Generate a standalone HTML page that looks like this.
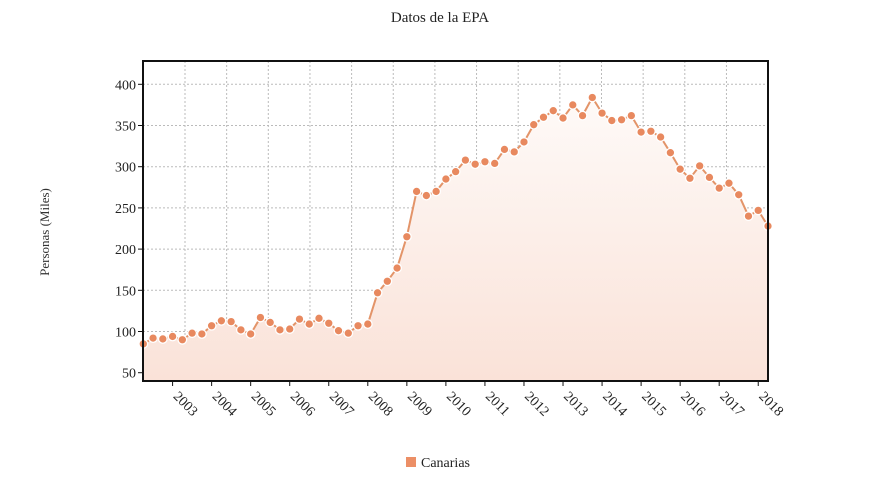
<!DOCTYPE html>
<html><head><meta charset="utf-8"><style>
body{margin:0;background:#fff;}
svg{display:block;font-family:"Liberation Serif",serif;}
</style></head><body>
<svg id="s" width="880" height="495" viewBox="0 0 880 495" xmlns="http://www.w3.org/2000/svg">
<defs><linearGradient id="g" x1="0" y1="0" x2="0" y2="1">
<stop offset="0" stop-color="#fefaf8"/><stop offset="1" stop-color="#fae2d8"/></linearGradient></defs>
<text x="440" y="22" text-anchor="middle" font-size="15" fill="#222">Datos de la EPA</text>
<text transform="translate(49,232) rotate(-90)" text-anchor="middle" font-size="13" fill="#333">Personas (Miles)</text>
<g id="grid"></g>
<path id="area" fill="url(#g)"/>
<polyline id="line" fill="none" stroke="#e39469" stroke-width="2"/>
<g id="pts"></g>
<rect x="143" y="61" width="625" height="320" fill="none" stroke="#111" stroke-width="2"/>
<g id="lab" font-size="14" fill="#222"></g>
<rect x="406" y="457" width="10" height="10" fill="#ec8f66"/>
<text x="421" y="467" font-size="14" fill="#222">Canarias</text>
</svg>
<script>
var v=[85,92,91,94,90,98,97,107,113,112,102,97,117,111,102,103,115,109,116,110,101,98,107,109,147,161,177,215,270,265,270,285,294,308,303,306,304,321,318,330,351,360,368,359,375,362,384,365,356,357,362,342,343,336,317,297,286,301,287,274,280,266,240,247,228];
var ns="http://www.w3.org/2000/svg";
function el(t,a,p){var e=document.createElementNS(ns,t);for(var k in a)e.setAttribute(k,a[k]);(p||document.getElementById('s')).appendChild(e);return e;}
function Y(x){return 84.3+(400-x)/50*41.2;}
var dx=(768-143.3)/64;
function X(i){return 143.3+i*dx;}
var g=document.getElementById('grid'),lab=document.getElementById('lab');
for(var t=50;t<=400;t+=50){var y=Y(t);el('line',{x1:143,x2:768,y1:y,y2:y,stroke:'#bbb','stroke-dasharray':'2,2'},g);
var tx=el('text',{x:136,y:y+5,'text-anchor':'end'},lab);tx.textContent=t;el('line',{x1:138,x2:143,y1:y,y2:y,stroke:'#111'},g);}
for(var k=0;k<14;k++){var x=185+41.65*k;el('line',{x1:x,x2:x,y1:61,y2:381,stroke:'#bbb','stroke-dasharray':'2,2'},g);}
for(var yr=2003;yr<=2018;yr++){var x=X(3+(yr-2003)*4);el('line',{x1:x,x2:x,y1:381,y2:386,stroke:'#111'},g);
var tx=el('text',{transform:'translate('+(x)+',397) rotate(45)'},lab);tx.textContent=yr;}
var p=v.map(function(a,i){return X(i).toFixed(1)+','+Y(a).toFixed(1)});
document.getElementById('line').setAttribute('points',p.join(' '));
document.getElementById('area').setAttribute('d','M143.3,381 L'+p.join(' L')+' L768,381 Z');
var pts=document.getElementById('pts');
v.forEach(function(a,i){el('circle',{cx:X(i),cy:Y(a),r:4.3,fill:'#e8895f',stroke:'#fff','stroke-width':1.3},pts);});
</script>
</body></html>
